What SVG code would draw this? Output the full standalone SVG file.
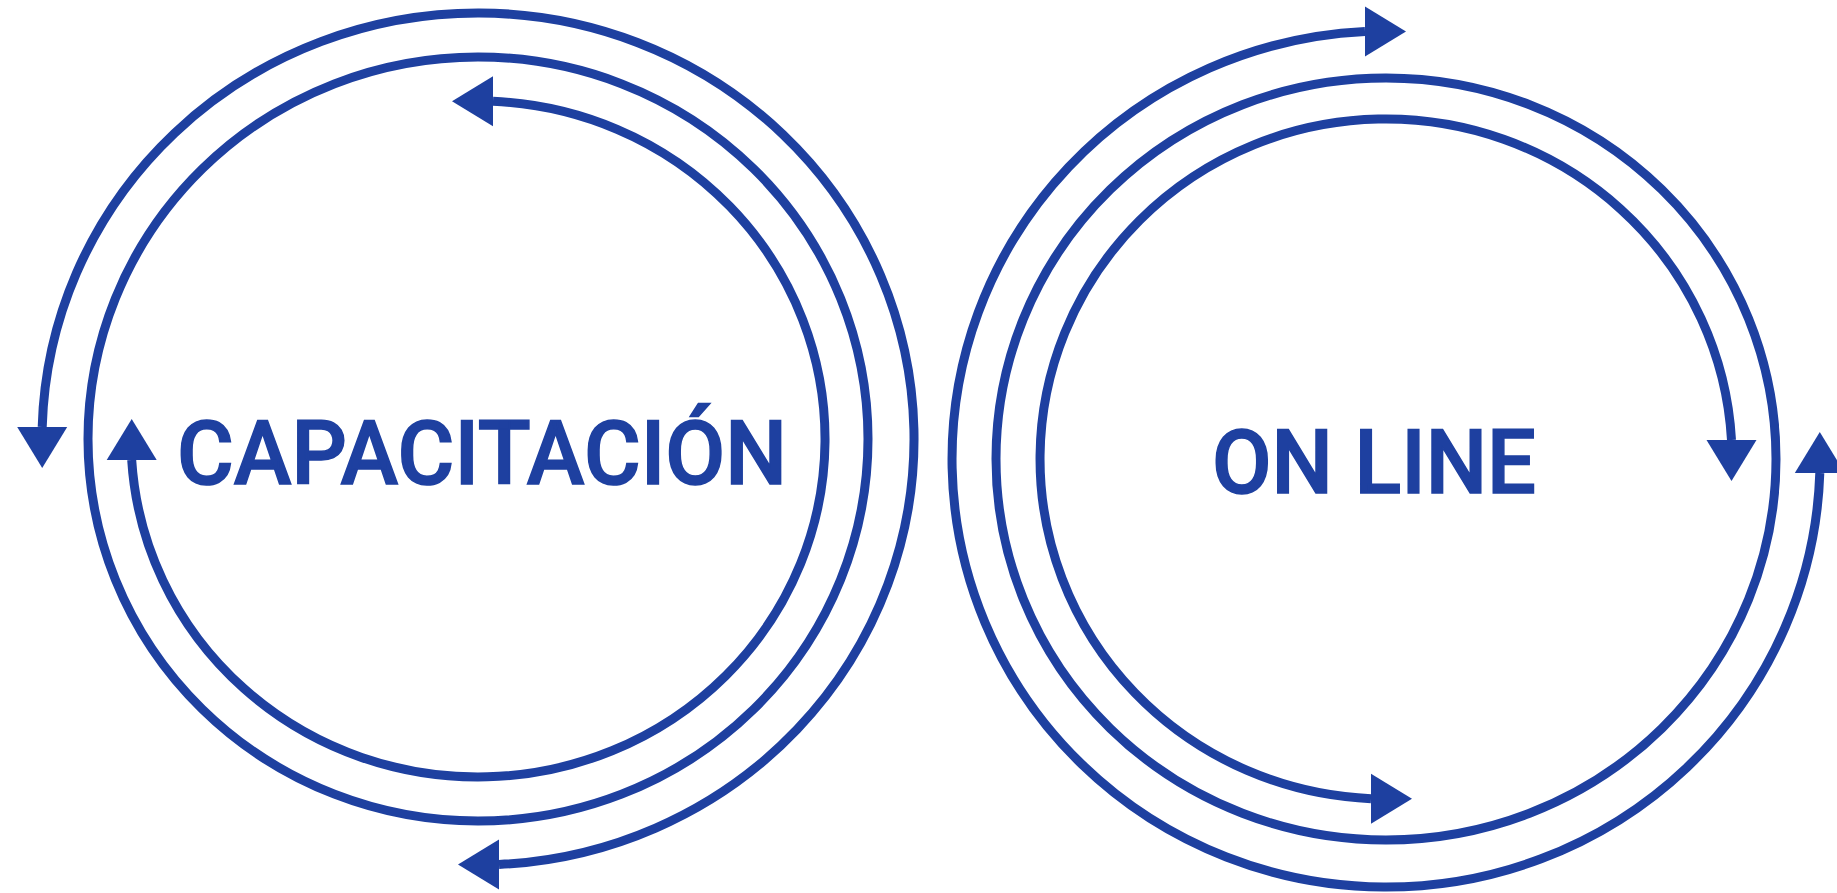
<svg xmlns="http://www.w3.org/2000/svg" xmlns:xlink="http://www.w3.org/1999/xlink" width="1837" height="893" viewBox="0 0 1837 893">
  <style>
    .ring { fill: none; stroke: #1e40a0; stroke-width: 9; }
    .arc { fill: none; stroke: #1e40a0; stroke-width: 9; }
    .head { fill: #1e40a0; }
    .label { font-family: Roboto, "Liberation Sans", sans-serif; font-weight: 500; font-size: 89px; fill: #1e40a0; stroke: #1e40a0; stroke-width: 1.5; }
  </style>
  <defs>
    <path id="ah" d="M0,-25 L41,0 L0,25 Z"/>
  </defs>
  <rect width="1837" height="893" fill="#ffffff"/>

  <g id="capacitacion">
    <ellipse class="ring" cx="478" cy="439" rx="390" ry="382"/>
    <text class="label" x="177" y="484" textLength="610" lengthAdjust="spacingAndGlyphs">CAPACITACIÓN</text>
  </g>

  <g id="online">
    <ellipse class="ring" cx="1386" cy="459" rx="390" ry="381"/>
    <text class="label" x="1212" y="493" textLength="324" lengthAdjust="spacingAndGlyphs">ON LINE</text>
  </g>

  <g id="connectors">
    <!-- left figure -->
    <path class="arc" d="M493,101.3 A347,338 0 1 1 131.7,460"/>
    <use href="#ah" class="head" transform="translate(493,101.3) rotate(180)"/>
    <use href="#ah" class="head" transform="translate(131.7,460) rotate(-90)"/>
    <path class="arc" d="M42.2,427 A436,426 0 1 1 499,864.5"/>
    <use href="#ah" class="head" transform="translate(42.2,427) rotate(90)"/>
    <use href="#ah" class="head" transform="translate(499,864.5) rotate(180)"/>
    <!-- right figure -->
    <path class="arc" d="M1365,31.5 A434,428 0 1 0 1819.8,473"/>
    <use href="#ah" class="head" transform="translate(1365,31.5)"/>
    <use href="#ah" class="head" transform="translate(1819.8,473) rotate(-90)"/>
    <path class="arc" d="M1731.5,440 A346,340 0 1 0 1371,798.7"/>
    <use href="#ah" class="head" transform="translate(1731.5,440) rotate(90)"/>
    <use href="#ah" class="head" transform="translate(1371,798.7)"/>
  </g>
</svg>
